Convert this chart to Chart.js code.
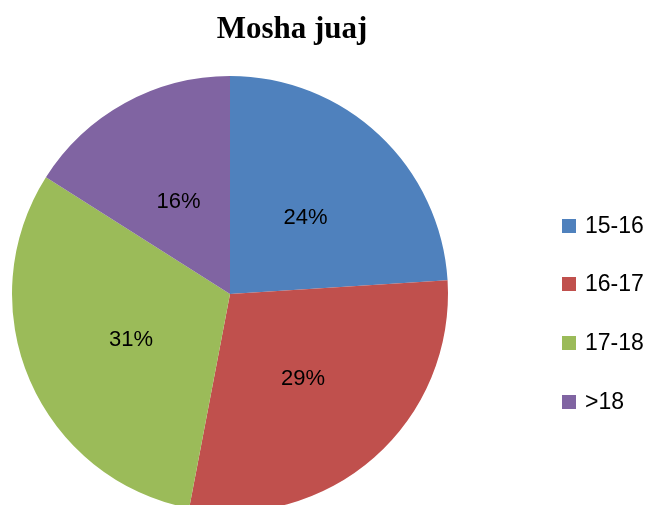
<!DOCTYPE html>
<html>
<head>
<meta charset="utf-8">
<script src="https://cdn.jsdelivr.net/npm/chart.js@4/dist/chart.umd.min.js"></script>
<style>
html,body{margin:0;padding:0;background:#fff;overflow:hidden;width:648px;height:505px;}
canvas{display:block;}
</style>
</head>
<body>
<canvas id="c" width="648" height="530"></canvas>
<script>
const title = "Mosha juaj";
const categories = ["15-16", "16-17", "17-18", ">18"];
const values = [24, 29, 31, 16];
const colors = ["#4F81BD", "#C0504D", "#9BBB59", "#8064A2"];

const overlay = {
  id: 'overlay',
  afterDraw(chart) {
    const ctx = chart.ctx;
    ctx.save();
    // title
    ctx.fillStyle = '#000';
    ctx.font = 'bold 31px "Liberation Serif", "Times New Roman", serif';
    ctx.textAlign = 'center';
    ctx.textBaseline = 'alphabetic';
    ctx.fillText(title, 292, 38);
    // slice labels
    const meta = chart.getDatasetMeta(0);
    const total = values.reduce((a, b) => a + b, 0);
    ctx.font = '22px "Liberation Sans", Arial, sans-serif';
    ctx.textBaseline = 'middle';
    meta.data.forEach((arc, i) => {
      const p = arc.tooltipPosition();
      ctx.fillText(Math.round(values[i] / total * 100) + '%', p.x + 1, p.y + 3);
    });
    // legend
    ctx.textAlign = 'left';
    ctx.font = '23px "Liberation Sans", Arial, sans-serif';
    const ys = [226, 284, 343, 402];
    categories.forEach((c, i) => {
      ctx.fillStyle = colors[i];
      ctx.fillRect(562, ys[i] - 7, 14, 14);
      ctx.fillStyle = '#000';
      ctx.fillText(c, 585, ys[i] + 1);
    });
    ctx.restore();
  }
};

new Chart(document.getElementById('c'), {
  type: 'pie',
  data: {
    labels: categories,
    datasets: [{ data: values, backgroundColor: colors, borderWidth: 0 }]
  },
  options: {
    responsive: false,
    animation: false,
    layout: { padding: { left: 12, right: 200, top: 76, bottom: 18 } },
    plugins: { legend: { display: false }, title: { display: false }, tooltip: { enabled: false } }
  },
  plugins: [overlay]
});
</script>
</body>
</html>
